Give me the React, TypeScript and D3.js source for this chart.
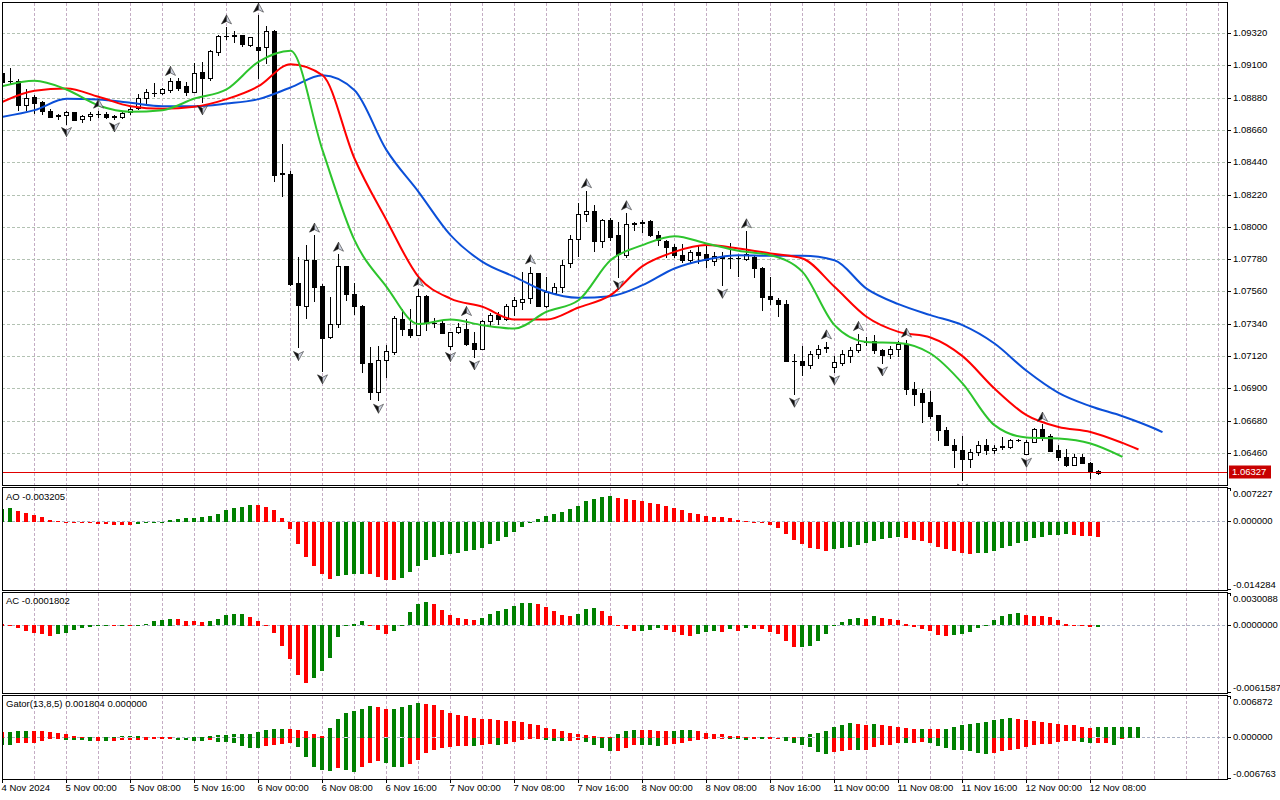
import React from "react";
import * as d3 from "d3";

// EURUSD H1, bars from 4 Nov 16:00 to 12 Nov 09:00
const open = [1.09052, 1.08994, 1.08995, 1.08836, 1.08886, 1.08852, 1.08791, 1.08762, 1.08768, 1.08784,
  1.08737, 1.08755, 1.08775, 1.08773, 1.08755, 1.08748, 1.08784, 1.08814, 1.08884, 1.08916,
  1.08918, 1.08934, 1.08995, 1.08961, 1.08923, 1.09057, 1.09018, 1.09195, 1.09304, 1.09309,
  1.09309, 1.09245, 1.09225, 1.09225, 1.09340, 1.08367, 1.08362, 1.07618, 1.07463, 1.07776,
  1.07602, 1.07250, 1.07341, 1.07736, 1.07549, 1.07463, 1.07079, 1.06880, 1.07095, 1.07152,
  1.07379, 1.07311, 1.07270, 1.07531, 1.07352, 1.07350, 1.07193, 1.07284, 1.07311, 1.07213,
  1.07173, 1.07363, 1.07402, 1.07379, 1.07463, 1.07493, 1.07522, 1.07686, 1.07463, 1.07554,
  1.07595, 1.07754, 1.07924, 1.08090, 1.08110, 1.07908, 1.08049, 1.07947, 1.07810, 1.08028,
  1.08033, 1.08042, 1.07951, 1.07908, 1.07867, 1.07810, 1.07781, 1.07831, 1.07817, 1.07772,
  1.07797, 1.07792, 1.07792, 1.07786, 1.07799, 1.07724, 1.07531, 1.07504, 1.07481, 1.07093,
  1.07089, 1.07061, 1.07136, 1.07182, 1.07050, 1.07077, 1.07123, 1.07164, 1.07222, 1.07227,
  1.07168, 1.07136, 1.07175, 1.07209, 1.06896, 1.06869, 1.06812, 1.06719, 1.06623, 1.06521,
  1.06482, 1.06425, 1.06471, 1.06516, 1.06487, 1.06512, 1.06505, 1.06551, 1.06460, 1.06539,
  1.06627, 1.06578, 1.06482, 1.06433, 1.06385, 1.06437, 1.06396, 1.06342];
const high = [1.09059, 1.09082, 1.09007, 1.08939, 1.08900, 1.08859, 1.08809, 1.08775, 1.08791, 1.08787,
  1.08764, 1.08784, 1.08791, 1.08784, 1.08768, 1.08784, 1.08821, 1.08907, 1.08939, 1.08980,
  1.08950, 1.09014, 1.09014, 1.08991, 1.09116, 1.09125, 1.09207, 1.09309, 1.09365, 1.09338,
  1.09313, 1.09297, 1.09445, 1.09370, 1.09343, 1.08566, 1.08385, 1.07795, 1.07879, 1.07947,
  1.07613, 1.07527, 1.07817, 1.07740, 1.07618, 1.07468, 1.07186, 1.07191, 1.07198, 1.07395,
  1.07447, 1.07447, 1.07577, 1.07538, 1.07386, 1.07368, 1.07289, 1.07350, 1.07379, 1.07289,
  1.07368, 1.07418, 1.07424, 1.07481, 1.07527, 1.07697, 1.07731, 1.07690, 1.07663, 1.07622,
  1.07776, 1.07947, 1.08167, 1.08249, 1.08151, 1.08060, 1.08067, 1.08037, 1.08099, 1.08037,
  1.08049, 1.08049, 1.07976, 1.07917, 1.07890, 1.07890, 1.07844, 1.07879, 1.07890, 1.07833,
  1.07833, 1.07894, 1.07810, 1.07976, 1.07810, 1.07731, 1.07663, 1.07520, 1.07504, 1.07136,
  1.07191, 1.07159, 1.07198, 1.07220, 1.07123, 1.07168, 1.07186, 1.07277, 1.07250, 1.07266,
  1.07173, 1.07191, 1.07227, 1.07232, 1.06948, 1.06902, 1.06887, 1.06721, 1.06641, 1.06562,
  1.06578, 1.06494, 1.06546, 1.06562, 1.06516, 1.06569, 1.06562, 1.06562, 1.06551, 1.06637,
  1.06660, 1.06596, 1.06516, 1.06494, 1.06455, 1.06455, 1.06403, 1.06351];
const low = [1.08984, 1.08984, 1.08802, 1.08798, 1.08780, 1.08773, 1.08748, 1.08739, 1.08707, 1.08732,
  1.08718, 1.08730, 1.08748, 1.08743, 1.08739, 1.08746, 1.08775, 1.08809, 1.08843, 1.08893,
  1.08905, 1.08923, 1.08934, 1.08900, 1.08920, 1.08855, 1.09002, 1.09172, 1.09281, 1.09263,
  1.09236, 1.09236, 1.09020, 1.09116, 1.08317, 1.08215, 1.07606, 1.07182, 1.07386, 1.07499,
  1.07023, 1.07247, 1.07318, 1.07504, 1.07409, 1.07016, 1.06828, 1.06823, 1.06982, 1.07136,
  1.07266, 1.07254, 1.07266, 1.07300, 1.07323, 1.07280, 1.07175, 1.07282, 1.07198, 1.07118,
  1.07170, 1.07334, 1.07341, 1.07372, 1.07402, 1.07447, 1.07486, 1.07461, 1.07459, 1.07549,
  1.07561, 1.07731, 1.07804, 1.08044, 1.07840, 1.07867, 1.07917, 1.07663, 1.07799, 1.07985,
  1.07969, 1.07940, 1.07879, 1.07795, 1.07795, 1.07765, 1.07765, 1.07754, 1.07731, 1.07742,
  1.07606, 1.07720, 1.07667, 1.07781, 1.07663, 1.07436, 1.07481, 1.07395, 1.07089, 1.06864,
  1.06993, 1.07045, 1.07107, 1.07152, 1.07016, 1.07061, 1.07084, 1.07152, 1.07198, 1.07145,
  1.07077, 1.07113, 1.07123, 1.06864, 1.06789, 1.06676, 1.06705, 1.06555, 1.06517, 1.06369,
  1.06278, 1.06369, 1.06448, 1.06455, 1.06464, 1.06494, 1.06500, 1.06546, 1.06455, 1.06537,
  1.06555, 1.06476, 1.06414, 1.06376, 1.06380, 1.06392, 1.06296, 1.06318];
const close = [1.08991, 1.08996, 1.08836, 1.08884, 1.08848, 1.08791, 1.08753, 1.08757, 1.08784, 1.08734,
  1.08757, 1.08775, 1.08771, 1.08753, 1.08750, 1.08782, 1.08809, 1.08884, 1.08920, 1.08918,
  1.08941, 1.08995, 1.08950, 1.08920, 1.09054, 1.09018, 1.09200, 1.09302, 1.09306, 1.09304,
  1.09247, 1.09293, 1.09209, 1.09340, 1.08358, 1.08364, 1.07613, 1.07468, 1.07776, 1.07595,
  1.07247, 1.07341, 1.07736, 1.07549, 1.07463, 1.07077, 1.06880, 1.07100, 1.07157, 1.07386,
  1.07311, 1.07270, 1.07531, 1.07350, 1.07348, 1.07282, 1.07284, 1.07318, 1.07204, 1.07173,
  1.07363, 1.07402, 1.07379, 1.07463, 1.07504, 1.07515, 1.07686, 1.07463, 1.07561, 1.07595,
  1.07747, 1.07924, 1.08094, 1.08110, 1.07908, 1.08049, 1.07931, 1.07817, 1.08026, 1.08024,
  1.08028, 1.07947, 1.07913, 1.07867, 1.07810, 1.07776, 1.07833, 1.07810, 1.07781, 1.07804,
  1.07792, 1.07788, 1.07788, 1.07817, 1.07720, 1.07527, 1.07515, 1.07481, 1.07091, 1.07089,
  1.07061, 1.07136, 1.07175, 1.07177, 1.07084, 1.07136, 1.07168, 1.07204, 1.07217, 1.07168,
  1.07130, 1.07175, 1.07209, 1.06896, 1.06864, 1.06812, 1.06714, 1.06623, 1.06521, 1.06482,
  1.06425, 1.06471, 1.06516, 1.06487, 1.06500, 1.06507, 1.06555, 1.06553, 1.06539, 1.06627,
  1.06573, 1.06478, 1.06437, 1.06380, 1.06437, 1.06396, 1.06342, 1.06327];

const upFractals = [12, 21, 28, 32, 39, 42, 52, 58, 66, 73, 78, 93, 103, 107, 113, 130];
const downFractals = [8, 14, 25, 37, 40, 47, 56, 59, 77, 90, 99, 104, 110, 120, 128];

// Alligator lines, read every 4 bars; the last value sits at the line's final bar
const maStep = 4;
const jaw = [1.08753, 1.08798, 1.08875, 1.08871, 1.08848, 1.08825, 1.08825, 1.08843, 1.08873, 1.08952,
  1.09036, 1.08934, 1.08526, 1.08242, 1.07947, 1.07765, 1.07663, 1.07561, 1.07520, 1.07531,
  1.07606, 1.07720, 1.07781, 1.07810, 1.07806, 1.07806, 1.07776, 1.07583, 1.07477, 1.07402,
  1.07334, 1.07209, 1.07023, 1.06873, 1.06782, 1.06714, 1.06630, 1.06605];
const jawLast = 145;
const teeth = [1.08855, 1.08930, 1.08945, 1.08889, 1.08825, 1.08807, 1.08821, 1.08873, 1.08961, 1.09111,
  1.09036, 1.08469, 1.08049, 1.07663, 1.07515, 1.07459, 1.07372, 1.07372, 1.07454, 1.07538,
  1.07736, 1.07833, 1.07879, 1.07856, 1.07822, 1.07788, 1.07595, 1.07391, 1.07288, 1.07250,
  1.07123, 1.06902, 1.06721, 1.06641, 1.06607, 1.06532, 1.06487];
const teethLast = 142;
const lips = [1.08961, 1.08998, 1.08939, 1.08830, 1.08787, 1.08798, 1.08877, 1.08939, 1.09127, 1.09202,
  1.08526, 1.07913, 1.07595, 1.07341, 1.07372, 1.07334, 1.07311, 1.07425, 1.07504, 1.07776,
  1.07879, 1.07940, 1.07890, 1.07840, 1.07810, 1.07697, 1.07334, 1.07220, 1.07213, 1.07141,
  1.06937, 1.06653, 1.06569, 1.06562, 1.06528, 1.06437];
const lipsLast = 140;

const ao = [0.00284, 0.00291, 0.00234, 0.00192, 0.00156, 0.00114, 0.00050, 0.00028, 0.00007, -0.00007,
  -0.00021, -0.00028, -0.00036, -0.00050, -0.00057, -0.00064, -0.00071, -0.00043, -0.00028, -0.00007,
  0.00007, 0.00050, 0.00064, 0.00078, 0.00092, 0.00114, 0.00135, 0.00178, 0.00249, 0.00291,
  0.00320, 0.00362, 0.00355, 0.00327, 0.00249, 0.00078, -0.00142, -0.00462, -0.00746, -0.00944,
  -0.01115, -0.01207, -0.01157, -0.01129, -0.01115, -0.01101, -0.01115, -0.01172, -0.01228, -0.01243,
  -0.01186, -0.01072, -0.00944, -0.00817, -0.00753, -0.00710, -0.00689, -0.00660, -0.00625, -0.00604,
  -0.00561, -0.00476, -0.00412, -0.00320, -0.00220, -0.00114, -0.00014, 0.00071, 0.00135, 0.00178,
  0.00220, 0.00270, 0.00334, 0.00440, 0.00497, 0.00533, 0.00561, 0.00518, 0.00483, 0.00462,
  0.00440, 0.00412, 0.00391, 0.00348, 0.00305, 0.00263, 0.00199, 0.00178, 0.00135, 0.00114,
  0.00099, 0.00078, 0.00036, 0.00021, 0.00007, -0.00007, -0.00071, -0.00121, -0.00249, -0.00376,
  -0.00462, -0.00547, -0.00582, -0.00611, -0.00568, -0.00547, -0.00525, -0.00483, -0.00440, -0.00398,
  -0.00369, -0.00334, -0.00320, -0.00334, -0.00376, -0.00398, -0.00440, -0.00525, -0.00568, -0.00611,
  -0.00653, -0.00675, -0.00667, -0.00653, -0.00611, -0.00547, -0.00504, -0.00440, -0.00398, -0.00334,
  -0.00312, -0.00284, -0.00270, -0.00263, -0.00284, -0.00291, -0.00305, -0.003205];

const ac = [0.00015, 0.00009, -0.00025, -0.00058, -0.00071, -0.00086, -0.00098, -0.00086, -0.00071, -0.00049,
  -0.00031, -0.00021, -0.00012, -0.00006, -0.00012, -0.00003, -0.00006, 0.00001, 0.00012, 0.00043,
  0.00052, 0.00061, 0.00058, 0.00043, 0.00040, 0.00034, 0.00043, 0.00058, 0.00095, 0.00104,
  0.00107, 0.00083, 0.00043, 0.00006, -0.00077, -0.00190, -0.00319, -0.00467, -0.00540, -0.00491,
  -0.00430, -0.00301, -0.00114, -0.00009, 0.00018, 0.00040, -0.00006, -0.00049, -0.00080, -0.00058,
  0.00001, 0.00123, 0.00196, 0.00221, 0.00196, 0.00141, 0.00095, 0.00068, 0.00058, 0.00049,
  0.00068, 0.00104, 0.00132, 0.00150, 0.00178, 0.00206, 0.00209, 0.00196, 0.00169, 0.00132,
  0.00095, 0.00086, 0.00104, 0.00150, 0.00160, 0.00132, 0.00086, 0.00009, -0.00040, -0.00058,
  -0.00052, -0.00049, -0.00028, -0.00049, -0.00068, -0.00089, -0.00098, -0.00086, -0.00068, -0.00058,
  -0.00061, -0.00037, -0.00052, -0.00031, -0.00034, -0.00040, -0.00068, -0.00086, -0.00150, -0.00206,
  -0.00203, -0.00190, -0.00150, -0.00086, -0.00012, 0.00031, 0.00058, 0.00068, 0.00064, 0.00086,
  0.00074, 0.00058, 0.00049, 0.00018, -0.00018, -0.00040, -0.00058, -0.00095, -0.00104, -0.00095,
  -0.00086, -0.00068, -0.00031, 0.00001, 0.00049, 0.00086, 0.00104, 0.00114, 0.00095, 0.00092,
  0.00086, 0.00077, 0.00049, 0.00018, 0.00000, -0.00006, -0.00021, -0.0001802];

const gatorUp = [0.00100, 0.00106, 0.00120, 0.00122, 0.00119, 0.00117, 0.00106, 0.00089, 0.00072, 0.00033,
  0.00017, 0.00019, 0.00017, 0.00019, 0.00022, 0.00023, 0.00024, 0.00026, 0.00022, 0.00017,
  0.00014, 0.00011, 0.00003, 0.00001, 0.00017, 0.00022, 0.00039, 0.00042, 0.00045, 0.00056,
  0.00067, 0.00072, 0.00106, 0.00139, 0.00153, 0.00156, 0.00150, 0.00139, 0.00122, 0.00072,
  0.00039, 0.00173, 0.00323, 0.00412, 0.00456, 0.00490, 0.00534, 0.00518, 0.00479, 0.00490,
  0.00512, 0.00557, 0.00590, 0.00568, 0.00545, 0.00467, 0.00423, 0.00390, 0.00362, 0.00334,
  0.00323, 0.00312, 0.00295, 0.00289, 0.00284, 0.00273, 0.00239, 0.00211, 0.00167, 0.00156,
  0.00122, 0.00089, 0.00056, 0.00050, 0.00028, 0.00017, 0.00011, 0.00072, 0.00122, 0.00139,
  0.00134, 0.00131, 0.00122, 0.00117, 0.00122, 0.00128, 0.00139, 0.00122, 0.00089, 0.00072,
  0.00056, 0.00039, 0.00033, 0.00022, 0.00017, 0.00022, 0.00006, 0.00003, 0.00017, 0.00014,
  0.00017, 0.00056, 0.00089, 0.00122, 0.00189, 0.00223, 0.00245, 0.00239, 0.00223, 0.00228,
  0.00223, 0.00206, 0.00189, 0.00167, 0.00150, 0.00156, 0.00150, 0.00145, 0.00156, 0.00189,
  0.00223, 0.00239, 0.00256, 0.00273, 0.00306, 0.00323, 0.00339, 0.00323, 0.00306, 0.00289,
  0.00273, 0.00256, 0.00228, 0.00223, 0.00211, 0.00189, 0.00173, 0.00176, 0.00177, 0.00178,
  0.00179, 0.00180, 0.001804];

const gatorDown = [-0.00111, -0.00117, -0.00089, -0.00083, -0.00081, -0.00045, -0.00017, -0.00006, -0.00028, -0.00039,
  -0.00042, -0.00056, -0.00053, -0.00058, -0.00045, -0.00039, -0.00036, -0.00033, -0.00028, -0.00022,
  -0.00011, -0.00006, -0.00028, -0.00033, -0.00050, -0.00056, -0.00039, -0.00061, -0.00067, -0.00083,
  -0.00134, -0.00161, -0.00167, -0.00128, -0.00122, -0.00095, -0.00083, -0.00156, -0.00328, -0.00490,
  -0.00545, -0.00551, -0.00501, -0.00545, -0.00568, -0.00490, -0.00423, -0.00390, -0.00423, -0.00490,
  -0.00492, -0.00434, -0.00362, -0.00250, -0.00195, -0.00167, -0.00145, -0.00139, -0.00134, -0.00139,
  -0.00111, -0.00106, -0.00111, -0.00106, -0.00072, -0.00039, -0.00006, -0.00003, -0.00028, -0.00056,
  -0.00058, -0.00045, -0.00039, -0.00072, -0.00122, -0.00167, -0.00223, -0.00217, -0.00167, -0.00117,
  -0.00122, -0.00125, -0.00128, -0.00111, -0.00100, -0.00089, -0.00056, -0.00028, -0.00011, -0.00006,
  -0.00003, -0.00011, -0.00014, -0.00028, -0.00011, -0.00017, -0.00006, -0.00003, -0.00056, -0.00089,
  -0.00111, -0.00156, -0.00239, -0.00273, -0.00239, -0.00211, -0.00195, -0.00198, -0.00195, -0.00156,
  -0.00122, -0.00111, -0.00089, -0.00092, -0.00089, -0.00072, -0.00089, -0.00139, -0.00167, -0.00206,
  -0.00209, -0.00223, -0.00256, -0.00273, -0.00256, -0.00223, -0.00195, -0.00192, -0.00156, -0.00111,
  -0.00100, -0.00097, -0.00072, -0.00056, -0.00045, -0.00072, -0.00089, -0.00086, -0.00083, -0.00111,
  -0.00011];

const priceTicks = [1.0932, 1.091, 1.0888, 1.0866, 1.0844, 1.0822, 1.08, 1.0778, 1.0756, 1.0734, 1.0712, 1.069, 1.0668, 1.0646];
const currentPrice = 1.06327;
const timeLabels = ["4 Nov 2024", "5 Nov 00:00", "5 Nov 08:00", "5 Nov 16:00", "6 Nov 00:00", "6 Nov 08:00",
  "6 Nov 16:00", "7 Nov 00:00", "7 Nov 08:00", "7 Nov 16:00", "8 Nov 00:00", "8 Nov 08:00", "8 Nov 16:00",
  "11 Nov 00:00", "11 Nov 08:00", "11 Nov 16:00", "12 Nov 00:00", "12 Nov 08:00"];
const aoScale = [0.007227, -0.014284];
const acScale = [0.0030088, -0.0061587];
const gatorScale = [0.006872, -0.006763];

const GREEN = "#008000";
const RED = "#ff0000";
const VGRID = "#c4adc4";
const HGRID = "#b3c2b3";
const FONT = "'Liberation Sans', Arial, sans-serif";

// frame lines (pixel rows/cols)
const L = 2, R = 1227;
const mainP = [2, 485], aoP = [487, 590], acP = [592, 693], gP = [695, 779];

const x = d3.scaleLinear().domain([0, 150]).range([2, 1202]);
const py = d3.scaleLinear().domain([1.0646, 1.0932]).range([453.5, 33.5]);
const aoY = d3.scaleLinear().domain([aoScale[1], aoScale[0]]).range([589, 488]);
const acY = d3.scaleLinear().domain([acScale[1], acScale[0]]).range([692, 593]);
const gY = d3.scaleLinear().domain([gatorScale[1], gatorScale[0]]).range([778, 697]);

const crisp = (v: number) => Math.round(v - 0.5) + 0.5;

function maPoints(vals: number[], last: number): [number, number][] {
  return vals.map((v, k) => [k === vals.length - 1 ? last : k * maStep, v] as [number, number]);
}

function Histogram({ vals, scale, firstUp, useAbs }: { vals: number[]; scale: d3.ScaleLinear<number, number>; firstUp: boolean; useAbs?: boolean }) {
  const y0 = scale(0);
  return (
    <g shapeRendering="crispEdges">
      {vals.map((v, i) => {
        const cur = useAbs ? Math.abs(v) : v;
        const prev = i > 0 ? (useAbs ? Math.abs(vals[i - 1]) : vals[i - 1]) : null;
        const up = prev === null ? firstUp : cur > prev;
        const y1 = scale(v);
        const top = Math.round(Math.min(y0, y1));
        const h = Math.max(1, Math.round(Math.abs(y1 - y0)));
        return <rect key={i} x={x(i) - 2} y={top} width={4} height={h} fill={up ? GREEN : RED} />;
      })}
    </g>
  );
}

function VGrid({ top, bottom }: { top: number; bottom: number }) {
  return (
    <g>
      {d3.range(4, 153, 4).map(i => (
        <line key={i} x1={x(i) + 0.5} x2={x(i) + 0.5} y1={top + 1} y2={bottom} stroke={VGRID} strokeDasharray="3,2" />
      ))}
    </g>
  );
}

function SubAxis({ top, bottom, scale, labels }: { top: number; bottom: number; scale: d3.ScaleLinear<number, number>; labels: string[] }) {
  const zy = crisp(scale(0));
  return (
    <g fontSize={9.5} fill="#000">
      <line x1={R} x2={R + 4} y1={top + 1.5} y2={top + 1.5} stroke="#000" />
      <line x1={R + 3.5} x2={R + 3.5} y1={top + 1} y2={top + 4} stroke="#000" />
      <text x={R + 6} y={top + 7} dominantBaseline="middle">{labels[0]}</text>
      <line x1={R} x2={R + 4} y1={zy} y2={zy} stroke="#000" />
      <text x={R + 6} y={zy} dominantBaseline="middle">{labels[1]}</text>
      <line x1={R} x2={R + 4} y1={bottom - 0.5} y2={bottom - 0.5} stroke="#000" />
      <text x={R + 6} y={bottom - 5} dominantBaseline="middle">{labels[2]}</text>
    </g>
  );
}

function Fractal({ i, up }: { i: number; up: boolean }) {
  const cx = x(i) + 0.5;
  const cy = up ? py(high[i]) - 7 : py(low[i]) + 8;
  const s = up ? 1 : -1;
  const tip = cy - 5 * s, base = cy + 4 * s, notch = cy + 1.5 * s;
  return (
    <g>
      <path d={`M${cx},${tip} L${cx - 5},${base} L${cx},${notch} Z`} fill="#111" stroke="#222" strokeWidth={0.6} />
      <path d={`M${cx},${tip} L${cx + 5},${base} L${cx},${notch} Z`} fill="#cfd4e2" stroke="#333" strokeWidth={0.6} />
    </g>
  );
}

export default function App() {
  const line = d3.line<[number, number]>().x(d => x(d[0]) + 0.5).y(d => py(d[1])).curve(d3.curveMonotoneX);
  const priceY = crisp(py(currentPrice)) - 1;
  const fmt = (v: number) => v.toFixed(5);

  return (
    <svg width={1280} height={800} style={{ position: "absolute", left: 0, top: 0, background: "#fff" }} fontFamily={FONT}>
      <defs>
        <clipPath id="clipMain"><rect x={L + 1} y={mainP[0] + 1} width={R - L - 1} height={mainP[1] - mainP[0] - 1} /></clipPath>
        <clipPath id="clipAo"><rect x={L + 1} y={aoP[0] + 1} width={R - L - 1} height={aoP[1] - aoP[0] - 1} /></clipPath>
        <clipPath id="clipAc"><rect x={L + 1} y={acP[0] + 1} width={R - L - 1} height={acP[1] - acP[0] - 1} /></clipPath>
        <clipPath id="clipG"><rect x={L + 1} y={gP[0] + 1} width={R - L - 1} height={gP[1] - gP[0] - 1} /></clipPath>
      </defs>
      <rect x={0} y={0} width={1280} height={800} fill="#fff" />

      {/* main panel */}
      <g clipPath="url(#clipMain)">
        <VGrid top={mainP[0]} bottom={mainP[1]} />
        {priceTicks.map(p => (
          <line key={p} x1={L} x2={R} y1={crisp(py(p))} y2={crisp(py(p))} stroke={HGRID} strokeDasharray="3,2" />
        ))}
        <g shapeRendering="crispEdges">
          {open.map((o, i) => {
            const c = close[i];
            const cx = x(i) + 0.5;
            const yt = Math.round(py(Math.max(o, c)));
            const yb = Math.round(py(Math.min(o, c)));
            return (
              <g key={i}>
                <line x1={cx} x2={cx} y1={Math.round(py(high[i]))} y2={Math.round(py(low[i])) + 1} stroke="#000" />
                {yb - yt < 1 ? (
                  <line x1={x(i) - 2} x2={x(i) + 3} y1={yt + 0.5} y2={yt + 0.5} stroke="#000" />
                ) : (
                  <rect x={x(i) - 1.5} y={yt + 0.5} width={4} height={yb - yt} fill={c >= o ? "#fff" : "#000"} stroke="#000" />
                )}
              </g>
            );
          })}
        </g>
        <path d={line(maPoints(jaw, jawLast)) || ""} fill="none" stroke="#0b4fd8" strokeWidth={2} />
        <path d={line(maPoints(teeth, teethLast)) || ""} fill="none" stroke="#ff0000" strokeWidth={2} />
        <path d={line(maPoints(lips, lipsLast)) || ""} fill="none" stroke="#2dc42d" strokeWidth={2} />
        {upFractals.map(i => <Fractal key={"u" + i} i={i} up={true} />)}
        {downFractals.map(i => <Fractal key={"d" + i} i={i} up={false} />)}
      </g>
      {/* bid line */}
      <rect x={L + 1} y={priceY - 0.5} width={R - L - 1} height={1} fill="#e00000" shapeRendering="crispEdges" />

      {/* AO */}
      <g clipPath="url(#clipAo)">
        <VGrid top={aoP[0]} bottom={aoP[1]} />
        <line x1={L} x2={R} y1={crisp(aoY(0))} y2={crisp(aoY(0))} stroke="#a9b1c2" strokeDasharray="3,2" />
        <Histogram vals={ao} scale={aoY} firstUp={true} />
      </g>
      {/* AC */}
      <g clipPath="url(#clipAc)">
        <VGrid top={acP[0]} bottom={acP[1]} />
        <line x1={L} x2={R} y1={crisp(acY(0))} y2={crisp(acY(0))} stroke="#a9b1c2" strokeDasharray="3,2" />
        <Histogram vals={ac} scale={acY} firstUp={false} />
      </g>
      {/* Gator */}
      <g clipPath="url(#clipG)">
        <VGrid top={gP[0]} bottom={gP[1]} />
        <line x1={L} x2={R} y1={crisp(gY(0))} y2={crisp(gY(0))} stroke="#a9b1c2" strokeDasharray="3,2" />
        <Histogram vals={gatorUp} scale={gY} firstUp={false} />
        <Histogram vals={gatorDown} scale={gY} firstUp={true} useAbs={true} />
      </g>

      {/* frames */}
      <g fill="none" stroke="#000" shapeRendering="crispEdges">
        {[mainP, aoP, acP, gP].map((p, k) => (
          <rect key={k} x={L + 0.5} y={p[0] + 0.5} width={R - L} height={p[1] - p[0]} />
        ))}
      </g>

      {/* legends */}
      <g fontSize={9.5} fill="#000">
        <text x={6} y={aoP[0] + 10} dominantBaseline="middle">{"AO " + ao[ao.length - 1].toFixed(6)}</text>
        <text x={6} y={acP[0] + 9} dominantBaseline="middle">{"AC " + ac[ac.length - 1].toFixed(7)}</text>
        <text x={6} y={gP[0] + 9} dominantBaseline="middle">
          {"Gator(13,8,5) " + gatorUp[gatorUp.length - 1].toFixed(6) + " 0.000000"}
        </text>
      </g>

      {/* price axis */}
      <g fontSize={9.5} fill="#000">
        {priceTicks.map(p => (
          <g key={p}>
            <line x1={R} x2={R + 4} y1={crisp(py(p))} y2={crisp(py(p))} stroke="#000" />
            <text x={R + 6} y={crisp(py(p))} dominantBaseline="middle">{fmt(p)}</text>
          </g>
        ))}
        <rect x={R + 2} y={priceY - 7} width={42} height={13} fill="#c80000" />
        <text x={R + 5} y={priceY} dominantBaseline="middle" fill="#fff">{fmt(currentPrice)}</text>
      </g>

      <SubAxis top={aoP[0]} bottom={aoP[1]} scale={aoY} labels={["0.007227", "0.000000", "-0.014284"]} />
      <SubAxis top={acP[0]} bottom={acP[1]} scale={acY} labels={["0.0030088", "0.0000000", "-0.0061587"]} />
      <SubAxis top={gP[0]} bottom={gP[1]} scale={gY} labels={["0.006872", "0.000000", "-0.006763"]} />

      {/* time axis */}
      <g fontSize={9.5} fill="#000">
        {timeLabels.map((t, k) => {
          const cx = x(k * 8) + 0.5;
          return (
            <g key={t}>
              <line x1={cx} x2={cx} y1={gP[1]} y2={gP[1] + 4} stroke="#000" />
              <text x={x(k * 8) - 0.5} y={791}>{t}</text>
            </g>
          );
        })}
      </g>
    </svg>
  );
}
